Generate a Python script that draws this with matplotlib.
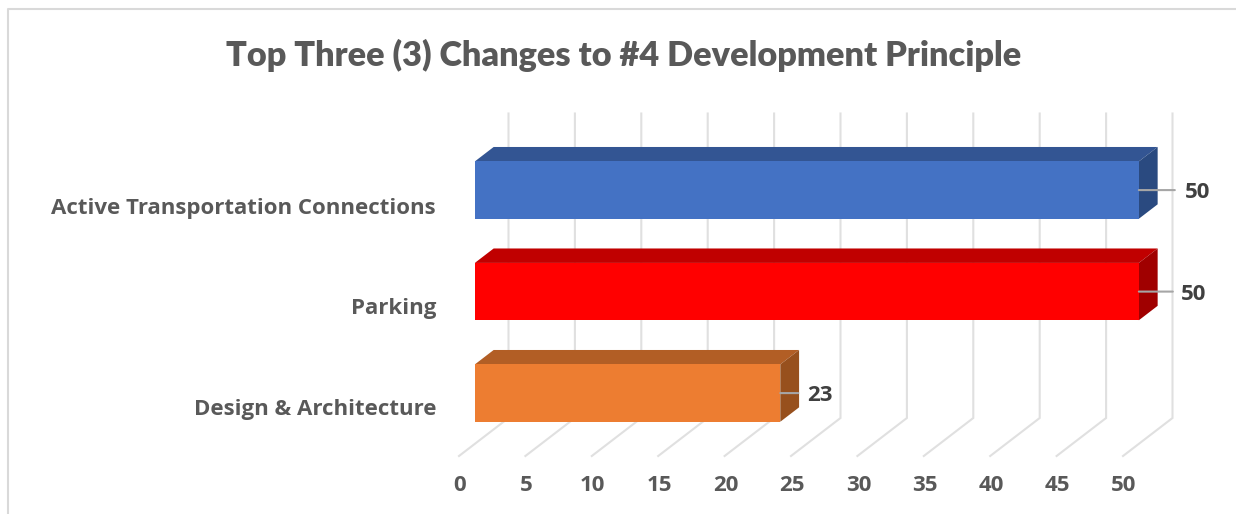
import matplotlib
matplotlib.use("Agg")
import matplotlib.pyplot as plt
from matplotlib.patches import Polygon
from matplotlib.lines import Line2D
from matplotlib.transforms import ScaledTranslation

categories = ["Design & Architecture", "Parking", "Active Transportation Connections"]
values = [23, 50, 50]
x_ticks = [0, 5, 10, 15, 20, 25, 30, 35, 40, 45, 50]

front_colors = ["#ED7D31", "#FF0000", "#4472C4"]
top_colors = ["#B25E25", "#C00000", "#335593"]
side_colors = ["#97501D", "#A00000", "#2A4A80"]

leader_px = [18, 34, 36]
label_px = [40, 55, 59]
ylabel_nudge_px = [-2, -2.5, -4]
W, H = 1236, 514
L, R, T, B = 459, 1123, 151.5, 456
DEPTH_X = 49.5 / ((R - L) / 50)
DEPTH_Y = 38 / ((B - T) / 3)
BAR_H = 0.565
D0, D1 = 0.32, 0.70

plt.rcParams["font.family"] = ["Open Sans", "DejaVu Sans"]
fig = plt.figure(figsize=(W / 100, H / 100), dpi=100)
ax = fig.add_axes([L / W, 1 - B / H, (R - L) / W, (B - T) / H])
ax.set_xlim(0, 50)
ax.set_ylim(-0.5, 2.5)
ax.patch.set_visible(False)
for s in ax.spines.values():
    s.set_visible(False)


def proj(v, c, d):
    return (v + d * DEPTH_X, c + d * DEPTH_Y)


grid = "#E0E0E0"
for t in x_ticks:
    fx, fy = proj(t, -0.5, 0)
    bx, by = proj(t, -0.5, 1)
    tx, ty = proj(t, 2.5, 1)
    ax.add_line(Line2D([fx, bx, tx], [fy, by, ty], color=grid, lw=1.5, clip_on=False, zorder=1,
                       solid_joinstyle="miter"))

for i, (c, v) in enumerate(zip(categories, values)):
    lo, hi = i - BAR_H / 2, i + BAR_H / 2
    front = [proj(0, lo, D0), proj(v, lo, D0), proj(v, hi, D0), proj(0, hi, D0)]
    top = [proj(0, hi, D0), proj(v, hi, D0), proj(v, hi, D1), proj(0, hi, D1)]
    side = [proj(v, lo, D0), proj(v, lo, D1), proj(v, hi, D1), proj(v, hi, D0)]
    ax.add_patch(Polygon(top, closed=True, fc=top_colors[i], ec="none", clip_on=False, zorder=3))
    ax.add_patch(Polygon(side, closed=True, fc=side_colors[i], ec="none", clip_on=False, zorder=3))
    ax.add_patch(Polygon(front, closed=True, fc=front_colors[i], ec="none", clip_on=False, zorder=4))
    px, py = proj(v, i, D0)
    ax.annotate("", xy=(px, py), xytext=(leader_px[i] * 0.72, 0), textcoords="offset points",
                arrowprops=dict(arrowstyle="-", color="#A6A6A6", lw=1.5, shrinkA=0, shrinkB=0),
                zorder=5, annotation_clip=False)
    ax.annotate(str(v), xy=(px, py), xytext=(label_px[i] * 0.72, -2), textcoords="offset points",
                ha="center", va="center", fontsize=16, fontweight="bold", color="#404040",
                zorder=6, annotation_clip=False)

ax.set_xticks(x_ticks)
ax.set_xticklabels([str(t) for t in x_ticks], fontsize=16, fontweight="bold", color="#595959")
ax.set_yticks(range(len(categories)))
ax.set_yticklabels(categories, fontsize=16, fontweight="bold", color="#595959")
ax.tick_params(axis="both", length=0)
ax.tick_params(axis="x", pad=14)
ax.tick_params(axis="y", pad=16.5)
for lab in ax.get_xticklabels():
    lab.set_transform(lab.get_transform() + ScaledTranslation(1.0 / 100, 0, fig.dpi_scale_trans))
for lab, n in zip(ax.get_yticklabels(), ylabel_nudge_px):
    lab.set_transform(lab.get_transform() + ScaledTranslation(0, n / 100, fig.dpi_scale_trans))

fig.text(624 / W, 1 - 55 / H, "Top Three (3) Changes to #4 Development Principle", ha="center", va="center",
         fontsize=24.7, fontweight="heavy", family=["Lato", "DejaVu Sans"], color="#595959")

border = "#D9D9D9"
fig.add_artist(Line2D([8 / W, 8 / W, 1 - 1 / W], [0, 1 - 9 / H, 1 - 9 / H], transform=fig.transFigure,
                      color=border, lw=1.5))

fig.savefig("out.png", dpi=100)
